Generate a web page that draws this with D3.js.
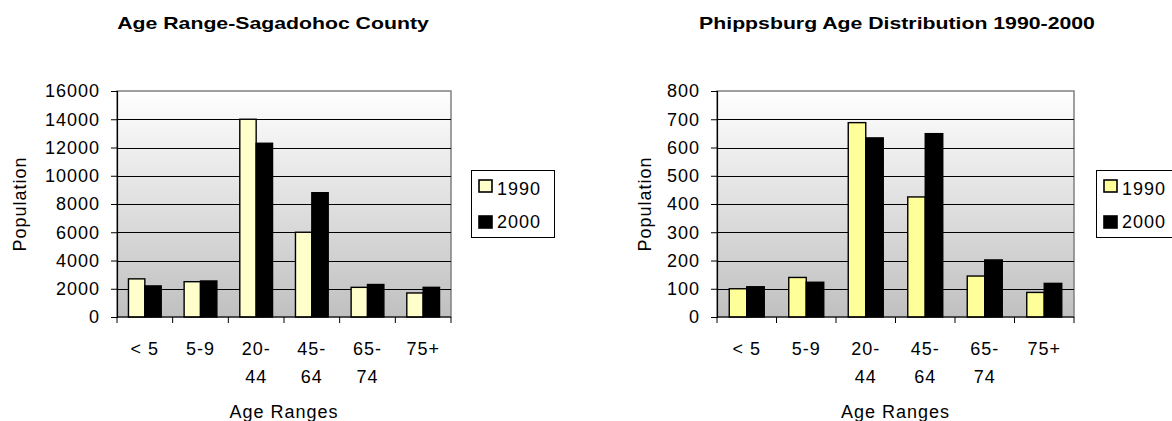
<!DOCTYPE html>
<html>
<head>
<meta charset="utf-8">
<script src="https://cdn.jsdelivr.net/npm/d3@7"></script>
<style>
  body { margin: 0; background: #fff; }
  text { font-family: "Liberation Sans", Arial, sans-serif; fill: #000; }
</style>
</head>
<body>
<svg id="chart" width="1172" height="421"></svg>
<script>
// Age ranges shared by both charts
const ageRanges = ["< 5", "5-9", "20-44", "45-64", "65-74", "75+"];
const seriesNames = ["1990", "2000"];

// Sagadahoc County population by age range
const sagadahoc1990 = [2700, 2500, 14000, 6000, 2100, 1700];
const sagadahoc2000 = [2200, 2550, 12300, 8800, 2300, 2100];
const sagadahocTicks = [0, 2000, 4000, 6000, 8000, 10000, 12000, 14000, 16000];

// Phippsburg population by age range
const phippsburg1990 = [100, 140, 688, 425, 145, 87];
const phippsburg2000 = [107, 123, 634, 649, 202, 119];
const phippsburgTicks = [0, 100, 200, 300, 400, 500, 600, 700, 800];

const svg = d3.select("#chart");

const defs = svg.append("defs");
const grad = defs.append("linearGradient")
  .attr("id", "plotFill").attr("x1", 0).attr("y1", 0).attr("x2", 0).attr("y2", 1);
grad.append("stop").attr("offset", "0%").attr("stop-color", "#ffffff");
grad.append("stop").attr("offset", "100%").attr("stop-color", "#c0c0c0");

const charts = [
  {
    title: "Age Range-Sagadohoc County",
    titleX: 273,
    v1990: sagadahoc1990, v2000: sagadahoc2000, ticks: sagadahocTicks,
    fill1990: "#ffffcc",
    plot: { left: 117, top: 91, right: 451, bottom: 317 },
    yLabelX: 26,
    legend: { x: 471, y: 170 }
  },
  {
    title: "Phippsburg Age Distribution 1990-2000",
    titleX: 897,
    v1990: phippsburg1990, v2000: phippsburg2000, ticks: phippsburgTicks,
    fill1990: "#ffff99",
    plot: { left: 717, top: 91, right: 1074, bottom: 317 },
    yLabelX: 651,
    legend: { x: 1096, y: 170 }
  }
];

charts.forEach(drawChart);

function drawChart(c) {
  const p = c.plot;
  const g = svg.append("g");

  const x = d3.scaleBand().domain(ageRanges).range([p.left, p.right]).paddingInner(0).paddingOuter(0);
  const y = d3.scaleLinear().domain([0, d3.max(c.ticks)]).range([p.bottom, p.top]);
  const bw = x.bandwidth() / 3.4;

  // title
  g.append("text")
    .attr("transform", `translate(${c.titleX},29) scale(1.25,1)`)
    .attr("text-anchor", "middle")
    .style("font-size", "17px").style("font-weight", "bold")
    .text(c.title);

  // plot background
  g.append("rect")
    .attr("x", p.left).attr("y", p.top)
    .attr("width", p.right - p.left).attr("height", p.bottom - p.top)
    .attr("fill", "url(#plotFill)")
    .attr("stroke", "#808080").attr("stroke-width", 1.5);

  // gridlines
  g.append("g").selectAll("line")
    .data(c.ticks.filter(t => t > 0 && t < d3.max(c.ticks)))
    .join("line")
    .attr("x1", p.left).attr("x2", p.right)
    .attr("y1", d => Math.round(y(d)) + 0.5).attr("y2", d => Math.round(y(d)) + 0.5)
    .attr("stroke", "#000").attr("stroke-width", 1);

  // bars
  const rows = ageRanges.map((a, i) => ({ a, v: [c.v1990[i], c.v2000[i]] }));
  const fills = [c.fill1990, "#000000"];
  const grp = g.append("g").selectAll("g").data(rows).join("g");
  grp.selectAll("rect")
    .data(d => d.v.map((v, k) => ({ a: d.a, v, k })))
    .join("rect")
    .attr("x", d => x(d.a) + x.bandwidth() / 2 - bw + d.k * bw)
    .attr("y", d => y(d.v))
    .attr("width", bw)
    .attr("height", d => y(0) - y(d.v))
    .attr("fill", d => fills[d.k])
    .attr("stroke", "#000").attr("stroke-width", 1.4);

  // y axis
  const yAxis = d3.axisLeft(y).tickValues(c.ticks).tickSize(6).tickPadding(11)
    .tickFormat(d3.format("d"));
  const ya = g.append("g").attr("transform", `translate(${p.left},0)`).call(yAxis);
  ya.select(".domain").attr("stroke", "#000").attr("stroke-width", 1.2);
  ya.selectAll(".tick line").attr("stroke", "#000");
  ya.selectAll(".tick text")
    .style("font-size", "18px").style("letter-spacing", "1px")
    .style("font-family", "'Liberation Sans', Arial, sans-serif")
    .attr("fill", "#000");

  // x axis line and ticks between categories
  g.append("line")
    .attr("x1", p.left).attr("x2", p.right)
    .attr("y1", p.bottom).attr("y2", p.bottom)
    .attr("stroke", "#000").attr("stroke-width", 1.2);
  const bounds = ageRanges.map(a => x(a)).concat([p.right]);
  g.append("g").selectAll("line").data(bounds).join("line")
    .attr("x1", d => d).attr("x2", d => d)
    .attr("y1", p.bottom).attr("y2", p.bottom + 6)
    .attr("stroke", "#000");

  // category labels, wrapped after the hyphen when too wide for the slot
  ageRanges.forEach(a => {
    const cx = x(a) + x.bandwidth() / 2;
    const t = g.append("text").attr("text-anchor", "middle")
      .style("font-size", "18px").style("letter-spacing", "1px");
    let lines = [a];
    t.text(a);
    if (t.node().getComputedTextLength() > x.bandwidth() * 0.75 && a.includes("-")) {
      const i = a.indexOf("-");
      lines = [a.slice(0, i + 1), a.slice(i + 1)];
    }
    t.text(null);
    lines.forEach((ln, k) => {
      t.append("tspan").attr("x", cx).attr("y", 355 + k * 28).text(ln);
    });
  });

  // axis titles
  g.append("text")
    .attr("x", (p.left + p.right) / 2).attr("y", 418)
    .attr("text-anchor", "middle")
    .style("font-size", "18px").style("letter-spacing", "1px")
    .text("Age Ranges");
  g.append("text")
    .attr("transform", `translate(${c.yLabelX},${(p.top + p.bottom) / 2}) rotate(-90)`)
    .attr("text-anchor", "middle")
    .style("font-size", "18px").style("letter-spacing", "1px")
    .text("Population");

  // legend
  const L = c.legend;
  g.append("rect")
    .attr("x", L.x + 0.5).attr("y", L.y + 0.5).attr("width", 83).attr("height", 67)
    .attr("fill", "#fff").attr("stroke", "#000").attr("stroke-width", 1);
  seriesNames.forEach((s, k) => {
    g.append("rect")
      .attr("x", L.x + 8).attr("y", L.y + 10 + k * 36).attr("width", 13).attr("height", 12)
      .attr("fill", fills[k]).attr("stroke", "#000").attr("stroke-width", 1.6);
    g.append("text")
      .attr("x", L.x + 26).attr("y", L.y + 25 + k * 33)
      .style("font-size", "18px").style("letter-spacing", "1px")
      .text(s);
  });
}
</script>
</body>
</html>
